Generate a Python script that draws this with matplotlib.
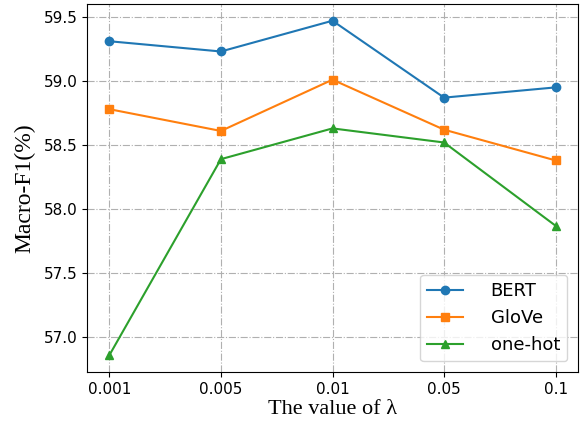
import matplotlib
matplotlib.use("Agg")
import matplotlib.pyplot as plt

x_labels = ["0.001", "0.005", "0.01", "0.05", "0.1"]
bert = [59.31, 59.23, 59.47, 58.87, 58.95]
glove = [58.78, 58.61, 59.01, 58.62, 58.38]
onehot = [56.86, 58.39, 58.63, 58.52, 57.87]

fig = plt.figure(figsize=(5.84, 4.28), dpi=100)
ax = fig.add_axes([87/584, 1-372/428, (578-87)/584, (372-4)/428])
xs = range(len(x_labels))
ax.plot(xs, bert, marker='o', color='#1f77b4', label='BERT')
ax.plot(xs, glove, marker='s', color='#ff7f0e', label='GloVe')
ax.plot(xs, onehot, marker='^', color='#2ca02c', label='one-hot')
ax.set_xticks(list(xs))
ax.set_xticklabels(x_labels)
ax.tick_params(labelsize=11)
ax.grid(True, linestyle='-.', color='#b0b0b0', linewidth=0.8)
ax.set_xlabel('The value of λ', fontsize=16, family='Liberation Serif', labelpad=2)
ax.set_ylabel('Macro-F1(%)', fontsize=17, family='Liberation Serif', labelpad=6)
ax.legend(loc='lower right', fontsize=13, handletextpad=1.5, borderaxespad=0.6)
fig.savefig('out.png', dpi=100)
